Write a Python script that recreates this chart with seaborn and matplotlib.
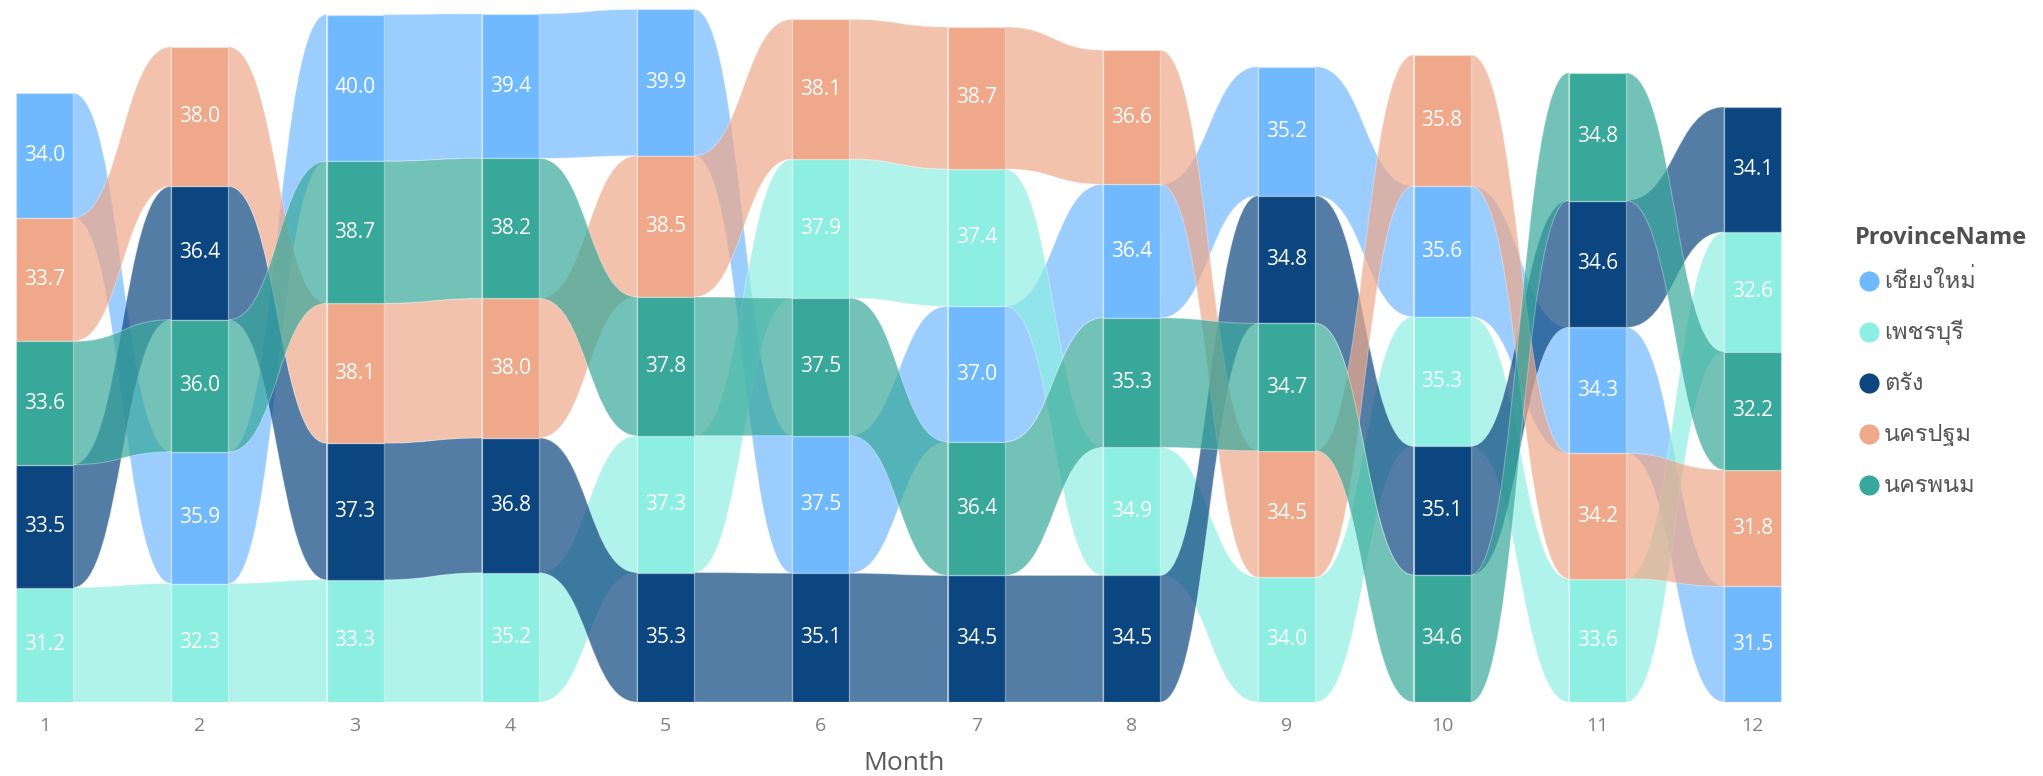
import numpy as np
import matplotlib
matplotlib.use("Agg")
import matplotlib.pyplot as plt
import seaborn as sns
from matplotlib.path import Path
from matplotlib.patches import PathPatch
from matplotlib.lines import Line2D
from matplotlib import font_manager as fm

# ---------------- data ----------------
months = [1, 2, 3, 4, 5, 6, 7, 8, 9, 10, 11, 12]
provinces = ["เชียงใหม่", "เพชรบุรี", "ตรัง", "นครปฐม", "นครพนม"]
chiang_mai    = [34.0, 35.9, 40.0, 39.4, 39.9, 37.5, 37.0, 36.4, 35.2, 35.6, 34.3, 31.5]
phetchaburi   = [31.2, 32.3, 33.3, 35.2, 37.3, 37.9, 37.4, 34.9, 34.0, 35.3, 33.6, 32.6]
trang         = [33.5, 36.4, 37.3, 36.8, 35.3, 35.1, 34.5, 34.5, 34.8, 35.1, 34.6, 34.1]
nakhon_pathom = [33.7, 38.0, 38.1, 38.0, 38.5, 38.1, 38.7, 36.6, 34.5, 35.8, 34.2, 31.8]
nakhon_phanom = [33.6, 36.0, 38.7, 38.2, 37.8, 37.5, 36.4, 35.3, 34.7, 34.6, 34.8, 32.2]
series = [chiang_mai, phetchaburi, trang, nakhon_pathom, nakhon_phanom]
colors = ["#71B9FF", "#8DEFE2", "#0B4680", "#EFA889", "#37A89A"]

# ---------------- fonts ----------------
def find_thai_font():
    try:
        from fontTools.ttLib import TTFont
    except Exception:
        return None
    preferred = []
    others = []
    for f in fm.fontManager.ttflist:
        try:
            tt = TTFont(f.fname, fontNumber=0, lazy=True)
            cmap = tt.getBestCmap()
            if cmap and 0x0E40 in cmap and 0x0E0A in cmap and 0x0E21 in cmap:
                if "Sans" in f.name or "Loma" in f.name or "Garuda" in f.name:
                    preferred.append(f.name)
                else:
                    others.append(f.name)
        except Exception:
            continue
    if preferred:
        return preferred[0]
    if others:
        return others[0]
    return None

sns.set_theme(style="white")
thai = find_thai_font()
fam = ([thai] if thai else []) + ["Open Sans", "DejaVu Sans"]
plt.rcParams["font.family"] = fam

pal = sns.color_palette(colors)

W, H = 2043, 776
fig = plt.figure(figsize=(W / 100, H / 100), dpi=100)
ax_left_px, ax_right_px = 13.4, 1783.7
ax_bottom_px, ax_top_px = 702, 5
ax = fig.add_axes([ax_left_px / W, 1 - ax_bottom_px / H,
                   (ax_right_px - ax_left_px) / W, (ax_bottom_px - ax_top_px) / H])
ax.set_xlim(0.8, 12.2)
ax.set_ylim(0, 190)

bw = 0.367
n = len(provinces)
vals = np.array(series)  # provinces x months

# compute stacking: largest at top
bottoms = np.zeros_like(vals)
for j in range(len(months)):
    order = sorted(range(n), key=lambda i: (vals[i, j], i))  # ascending, bottom first
    cum = 0.0
    for i in order:
        bottoms[i, j] = cum
        cum += vals[i, j]
tops = bottoms + vals

# ribbons
for i in range(n):
    for j in range(len(months) - 1):
        x0 = months[j] + bw / 2
        x1 = months[j + 1] - bw / 2
        xm = (x0 + x1) / 2
        b0, t0 = bottoms[i, j], tops[i, j]
        b1, t1 = bottoms[i, j + 1], tops[i, j + 1]
        verts = [(x0, t0), (xm, t0), (xm, t1), (x1, t1), (x1, b1),
                 (xm, b1), (xm, b0), (x0, b0), (x0, t0)]
        codes = [Path.MOVETO, Path.CURVE4, Path.CURVE4, Path.CURVE4, Path.LINETO,
                 Path.CURVE4, Path.CURVE4, Path.CURVE4, Path.CLOSEPOLY]
        patch = PathPatch(Path(verts, codes),
                          facecolor=list(pal[i]) + [0.7],
                          edgecolor=(1, 1, 1, 0.3), linewidth=0.8, zorder=1)
        ax.add_patch(patch)

# bars
for i in range(n):
    ax.bar(months, vals[i], bottom=bottoms[i], width=bw, color=pal[i],
           edgecolor=(1, 1, 1, 0.3), linewidth=1.0, zorder=3)
    for j, m in enumerate(months):
        ax.text(m, bottoms[i, j] + vals[i, j] / 2, f"{vals[i, j]:.1f}",
                ha="center", va="center", color="white", fontsize=15,
                family=["Open Sans", "DejaVu Sans"], zorder=4)

ax.set_xticks(months)
ax.set_xticklabels([str(m) for m in months])
ax.set_yticks([])
ax.tick_params(axis="x", length=0, pad=11, labelsize=14, labelcolor="#808080")
for lab in ax.get_xticklabels():
    lab.set_family(["Open Sans", "DejaVu Sans"])
sns.despine(ax=ax, left=True, bottom=True)
ax.set_xlabel("")

fig.text(904 / W, 1 - 764 / H, "Month", ha="center", va="center",
         fontsize=19, color="#5a5a5a", family=["Open Sans", "DejaVu Sans"])

# legend (manual)
fig.text(1855 / W, 1 - 238 / H, "ProvinceName", ha="left", va="center",
         fontsize=17, fontweight="bold", color="#505050",
         family=["Open Sans", "DejaVu Sans"])
leg_y = [281, 332, 383, 434, 485]
for i, name in enumerate(provinces):
    y = 1 - leg_y[i] / H
    fig.add_artist(Line2D([1869 / W], [y], marker="o", markersize=14.5,
                          markerfacecolor=pal[i], markeredgecolor="none",
                          linestyle="none", transform=fig.transFigure))
    fig.text(1884 / W, y, name, ha="left", va="center", fontsize=17,
             color="#555555")

fig.savefig("out.png", dpi=100)
